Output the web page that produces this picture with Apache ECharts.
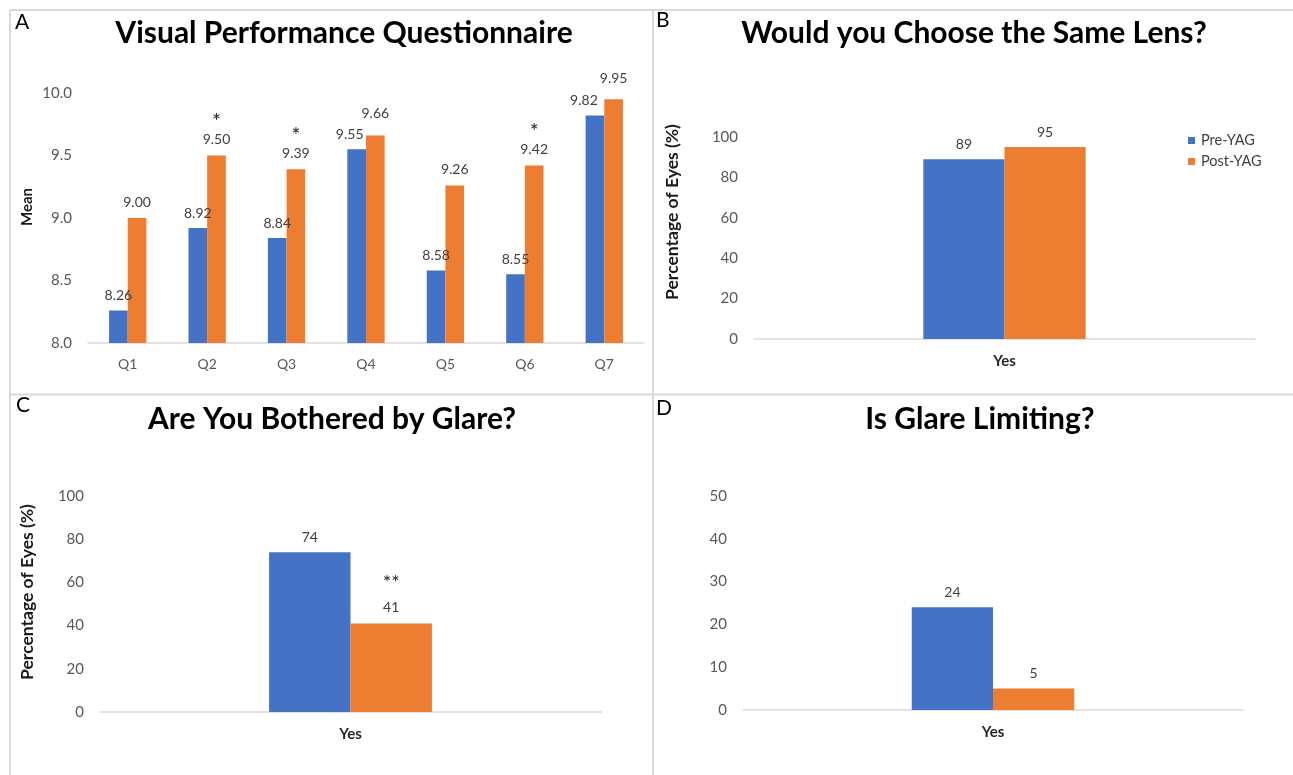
<!DOCTYPE html>
<html>
<head>
<meta charset="utf-8">
<script src="https://cdn.jsdelivr.net/npm/echarts@6/dist/echarts.min.js"></script>
<style>
  html, body { margin: 0; padding: 0; background: #ffffff; }
  #chart { width: 1293px; height: 775px; }
</style>
</head>
<body>
<div id="chart"></div>
<script>
// ---------- data ----------
const seriesNames = ['Pre-YAG', 'Post-YAG'];
const qCategories = ['Q1', 'Q2', 'Q3', 'Q4', 'Q5', 'Q6', 'Q7'];
const vpqPre  = [8.26, 8.92, 8.84, 9.55, 8.58, 8.55, 9.82];
const vpqPost = [9.00, 9.50, 9.39, 9.66, 9.26, 9.42, 9.95];
const vpqPostSig = ['', '*', '*', '', '', '*', ''];
const vpqTicks = [8.0, 8.5, 9.0, 9.5, 10.0];

const yesCategory = ['Yes'];
const sameLensPre  = [89];
const sameLensPost = [95];
const glareBotherPre  = [74];
const glareBotherPost = [41];
const glareBotherSig  = ['**'];
const glareLimitPre  = [24];
const glareLimitPost = [5];

const panelTitles = ['Visual Performance Questionnaire', 'Would you Choose the Same Lens?', 'Are You Bothered by Glare?', 'Is Glare Limiting?'];
const panelLetters = ['A', 'B', 'C', 'D'];

// ---------- styles ----------
const FONT = 'Lato';
const BLUE = '#4472C4';
const ORANGE = '#ED7D31';
const GRIDLINE = '#d9d9d9';
const LABEL_C = '#404040';
const TICK_C = '#595959';
// label nudges (Excel moved a few labels to avoid overlaps)
const vpqPreLabelShift  = [[0,0],[0,0],[0,0],[-7,0],[0,0],[0,0],[-11,0]];
const vpqPostLabelShift = [[0,0],[0,0],[0,0],[0,-6],[0,0],[0,0],[0,-5]];

const chart = echarts.init(document.getElementById('chart'), null, { renderer: 'canvas' });

function xAx(gridIndex, data, bold) {
  return {
    type: 'category', gridIndex, data,
    axisLine: { show: true, lineStyle: { color: GRIDLINE, width: 1.5 } },
    axisTick: { show: false },
    axisLabel: { fontFamily: FONT, fontSize: bold ? 15 : 14, color: bold ? '#262626' : TICK_C, fontWeight: bold ? 'bold' : 'normal', margin: bold ? 15 : 14 },
    splitLine: { show: false }
  };
}
function yAx(gridIndex, min, max, interval, fmt) {
  return {
    type: 'value', gridIndex, min, max, interval,
    axisLine: { show: false }, axisTick: { show: false },
    splitLine: { show: false },
    axisLabel: { fontFamily: FONT, fontSize: 15, color: TICK_C, margin: 16, formatter: fmt }
  };
}
function baseLabel(extra) {
  return Object.assign({
    show: true, position: 'top', distance: 8,
    fontFamily: FONT, fontSize: 14, color: LABEL_C
  }, extra || {});
}

const vpqPreData = vpqPre.map((v, i) => ({ value: v, label: { offset: vpqPreLabelShift[i] } }));
const vpqPostData = vpqPost.map((v, i) => ({ value: v, label: { offset: vpqPostLabelShift[i] } }));

const option = {
  backgroundColor: '#ffffff',
  animation: false,
  title: panelTitles.map((t, i) => ({
    text: t,
    left: [339, 969, 327, 975][i],
    top: [13, 13, 399, 399][i],
    textAlign: 'center',
    textStyle: { fontFamily: FONT, fontSize: 30, fontWeight: 'bold', color: '#000000' }
  })),
  legend: {
    data: seriesNames,
    orient: 'vertical',
    left: 1183, top: 128,
    itemWidth: 7, itemHeight: 7, itemGap: 6,
    icon: 'rect',
    textStyle: { fontFamily: FONT, fontSize: 14.5, color: LABEL_C, padding: [0, 0, 0, 1] }
  },
  grid: [
    { left: 88, right: 649, top: 93, bottom: 432, containLabel: false },
    { left: 754, right: 38, top: 137, bottom: 436, containLabel: false },
    { left: 100, right: 692, top: 496, bottom: 63, containLabel: false },
    { left: 743, right: 50, top: 496, bottom: 65, containLabel: false }
  ],
  xAxis: [
    xAx(0, qCategories, false),
    xAx(1, yesCategory, true),
    xAx(2, yesCategory, true),
    xAx(3, yesCategory, true)
  ],
  yAxis: [
    yAx(0, vpqTicks[0], vpqTicks[vpqTicks.length - 1], vpqTicks[1] - vpqTicks[0], v => v.toFixed(1)),
    yAx(1, 0, 100, 20),
    yAx(2, 0, 100, 20),
    yAx(3, 0, 50, 10)
  ],
  series: [
    { name: seriesNames[0], type: 'bar', xAxisIndex: 0, yAxisIndex: 0, data: vpqPreData,
      itemStyle: { color: BLUE }, barGap: '0%', barCategoryGap: '53%',
      label: baseLabel({ formatter: p => p.value.toFixed(2) }) },
    { name: seriesNames[1], type: 'bar', xAxisIndex: 0, yAxisIndex: 0, data: vpqPostData,
      itemStyle: { color: ORANGE }, barGap: '0%', barCategoryGap: '53%',
      label: baseLabel({
        formatter: p => (vpqPostSig[p.dataIndex] ? '{a|' + vpqPostSig[p.dataIndex] + '}\n' : '') + '{v|' + p.value.toFixed(2) + '}',
        rich: {
          a: { fontFamily: FONT, fontSize: 21, color: '#262626', lineHeight: 18, align: 'center' },
          v: { fontFamily: FONT, fontSize: 14, color: LABEL_C, lineHeight: 16, align: 'center' }
        }
      }) },
    { name: seriesNames[0], type: 'bar', xAxisIndex: 1, yAxisIndex: 1, data: sameLensPre,
      itemStyle: { color: BLUE }, barGap: '0%', barCategoryGap: '67.6%', label: baseLabel() },
    { name: seriesNames[1], type: 'bar', xAxisIndex: 1, yAxisIndex: 1, data: sameLensPost,
      itemStyle: { color: ORANGE }, barGap: '0%', barCategoryGap: '67.6%', label: baseLabel() },
    { name: seriesNames[0], type: 'bar', xAxisIndex: 2, yAxisIndex: 2, data: glareBotherPre,
      itemStyle: { color: BLUE }, barGap: '0%', barCategoryGap: '67.5%', label: baseLabel() },
    { name: seriesNames[1], type: 'bar', xAxisIndex: 2, yAxisIndex: 2, data: glareBotherPost,
      itemStyle: { color: ORANGE }, barGap: '0%', barCategoryGap: '67.5%',
      label: baseLabel({
        formatter: p => (glareBotherSig[p.dataIndex] ? '{a|' + glareBotherSig[p.dataIndex] + '}\n' : '') + '{v|' + p.value + '}',
        rich: {
          a: { fontFamily: FONT, fontSize: 20, color: '#262626', lineHeight: 34, align: 'center' },
          v: { fontFamily: FONT, fontSize: 14, color: LABEL_C, lineHeight: 16, align: 'center' }
        }
      }) },
    { name: seriesNames[0], type: 'bar', xAxisIndex: 3, yAxisIndex: 3, data: glareLimitPre,
      itemStyle: { color: BLUE }, barGap: '0%', barCategoryGap: '67.5%', label: baseLabel() },
    { name: seriesNames[1], type: 'bar', xAxisIndex: 3, yAxisIndex: 3, data: glareLimitPost,
      itemStyle: { color: ORANGE }, barGap: '0%', barCategoryGap: '67.5%', label: baseLabel() }
  ],
  graphic: [
    // panel frames
    { type: 'line', shape: { x1: 10, y1: 10, x2: 1293, y2: 10 }, style: { stroke: GRIDLINE, lineWidth: 2 }, silent: true },
    { type: 'line', shape: { x1: 10, y1: 10, x2: 10, y2: 775 }, style: { stroke: GRIDLINE, lineWidth: 2 }, silent: true },
    { type: 'line', shape: { x1: 653, y1: 10, x2: 653, y2: 775 }, style: { stroke: GRIDLINE, lineWidth: 2 }, silent: true },
    { type: 'line', shape: { x1: 10, y1: 394.5, x2: 1293, y2: 394.5 }, style: { stroke: GRIDLINE, lineWidth: 2 }, silent: true },
    // panel letters
    ...panelLetters.map((L, i) => ({
      type: 'text', left: [15, 656, 16, 656][i], top: [12, 10, 395, 398][i],
      style: { text: L, fontFamily: FONT, fontSize: 21, fill: '#000000' }, silent: true
    })),
    // y-axis titles
    { type: 'text', x: 27, y: 207, rotation: Math.PI / 2,
      style: { text: 'Mean', fontFamily: FONT, fontSize: 15, fontWeight: 'bold', fill: '#1a1a1a', align: 'center', verticalAlign: 'middle' } },
    { type: 'text', x: 672, y: 212, rotation: Math.PI / 2,
      style: { text: 'Percentage of Eyes (%)', fontFamily: FONT, fontSize: 17.5, fontWeight: 'bold', fill: '#1a1a1a', align: 'center', verticalAlign: 'middle' } },
    { type: 'text', x: 27.5, y: 592, rotation: Math.PI / 2,
      style: { text: 'Percentage of Eyes (%)', fontFamily: FONT, fontSize: 17.5, fontWeight: 'bold', fill: '#1a1a1a', align: 'center', verticalAlign: 'middle' } }
  ]
};
chart.setOption(option);
</script>
</body>
</html>
